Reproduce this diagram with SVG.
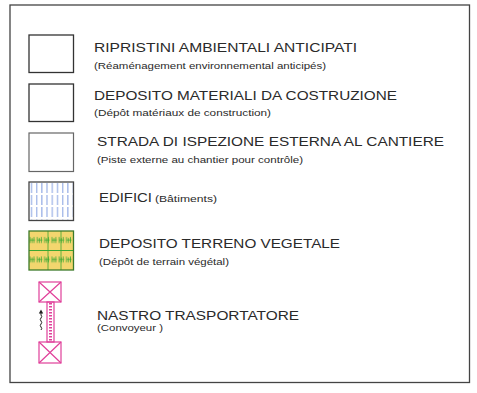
<svg xmlns="http://www.w3.org/2000/svg" width="477" height="393" viewBox="0 0 477 393">
<style>
.t{font-family:"Liberation Sans",Arial,sans-serif;font-size:13px;fill:#2a2a2a}
.s{font-family:"Liberation Sans",Arial,sans-serif;font-size:9.5px;fill:#2a2a2a}
.box{fill:#fff;stroke:#333;stroke-width:1.3}
.pk{fill:none;stroke:#e0409a;stroke-width:1.2}
</style>
<defs>
<pattern id="bld" x="29" y="183" width="5.2" height="12" patternUnits="userSpaceOnUse">
<line x1="2.5" y1="0" x2="2.5" y2="10" stroke="#5a7fd6" stroke-width="0.8"/>
</pattern>
<pattern id="veg" x="29" y="231" width="7.3" height="19.5" patternUnits="userSpaceOnUse">
<path d="M1 6 v6 M3 7 v5 M5 6 v6 M1 9 h5" stroke="#3aa832" stroke-width="0.8" fill="none"/>
</pattern>
</defs>
<rect x="10" y="5" width="459.5" height="377.5" fill="#fff" stroke="#444" stroke-width="1.3"/>

<g id="ripristini">
<rect class="box" x="29" y="35" width="44.5" height="37.5"/>
<text class="t" x="94" y="52" textLength="263" lengthAdjust="spacingAndGlyphs">RIPRISTINI AMBIENTALI ANTICIPATI</text>
<text class="s" x="94" y="69" textLength="232" lengthAdjust="spacingAndGlyphs">(Réaménagement environnemental anticipés)</text>
</g>

<g id="deposito-materiali">
<rect class="box" x="29" y="84" width="44.5" height="37.5"/>
<text class="t" x="94" y="100" textLength="303" lengthAdjust="spacingAndGlyphs">DEPOSITO MATERIALI DA COSTRUZIONE</text>
<text class="s" x="94" y="116" textLength="177" lengthAdjust="spacingAndGlyphs">(Dépôt matériaux de construction)</text>
</g>

<g id="strada">
<rect x="29" y="133" width="44.5" height="38.5" fill="#fff" stroke="#666" stroke-width="1.2"/>
<text class="t" x="97" y="146" textLength="347" lengthAdjust="spacingAndGlyphs">STRADA DI ISPEZIONE ESTERNA AL CANTIERE</text>
<text class="s" x="97" y="163" textLength="206" lengthAdjust="spacingAndGlyphs">(Piste externe au chantier pour contrôle)</text>
</g>

<g id="edifici">
<rect x="29" y="182" width="44.5" height="38.5" fill="#fff"/>
<rect x="30" y="183" width="42.5" height="36.5" fill="url(#bld)"/>
<rect x="29" y="182" width="44.5" height="38.5" fill="none" stroke="#444" stroke-width="1.3"/>
<text class="t" x="99" y="202" textLength="53" lengthAdjust="spacingAndGlyphs">EDIFICI</text>
<text class="s" x="155" y="202" textLength="62" lengthAdjust="spacingAndGlyphs">(Bâtiments)</text>
</g>

<g id="deposito-terreno">
<rect x="29" y="231" width="44.5" height="39" fill="#f3d66e"/>
<rect x="29" y="231" width="44.5" height="39" fill="url(#veg)"/>
<line x1="29" y1="250.5" x2="73.5" y2="250.5" stroke="#3aa832" stroke-width="1"/>
<line x1="48" y1="231" x2="48" y2="270" stroke="#3aa832" stroke-width="0.8"/>
<line x1="61" y1="231" x2="61" y2="270" stroke="#3aa832" stroke-width="0.8"/>
<rect x="29" y="231" width="44.5" height="39" fill="none" stroke="#3d7a2a" stroke-width="1.3"/>
<text class="t" x="99" y="248" textLength="241" lengthAdjust="spacingAndGlyphs">DEPOSITO TERRENO VEGETALE</text>
<text class="s" x="99" y="265" textLength="130" lengthAdjust="spacingAndGlyphs">(Dépôt de terrain végétal)</text>
</g>

<g id="nastro">
<rect class="pk" x="39" y="282" width="22" height="20"/>
<path class="pk" d="M39 282 L61 302 M61 282 L39 302"/>
<rect class="pk" x="47" y="302" width="7" height="40"/>
<line x1="50.5" y1="303" x2="50.5" y2="341" stroke="#e0409a" stroke-width="3" stroke-dasharray="1.5 1.5" fill="none"/>
<rect class="pk" x="39" y="342" width="22" height="21"/>
<path class="pk" d="M39 342 L61 363 M61 342 L39 363"/>
<path d="M41 330 q1.5 -1.5 0 -3 q-1.5 -1.5 0 -3 q1.5 -1.5 0 -3 q-1.5 -1.5 0 -3 q1.5 -1.5 0 -3 L41 311" fill="none" stroke="#222" stroke-width="1"/>
<path d="M38.8 313.5 L41 309.5 L43.2 313.5 Z" fill="#222"/>
<text class="t" x="97" y="320" textLength="202" lengthAdjust="spacingAndGlyphs">NASTRO TRASPORTATORE</text>
<text class="s" x="97" y="331" textLength="66" lengthAdjust="spacingAndGlyphs">(Convoyeur )</text>
</g>
<g id="connectors"/>
</svg>
